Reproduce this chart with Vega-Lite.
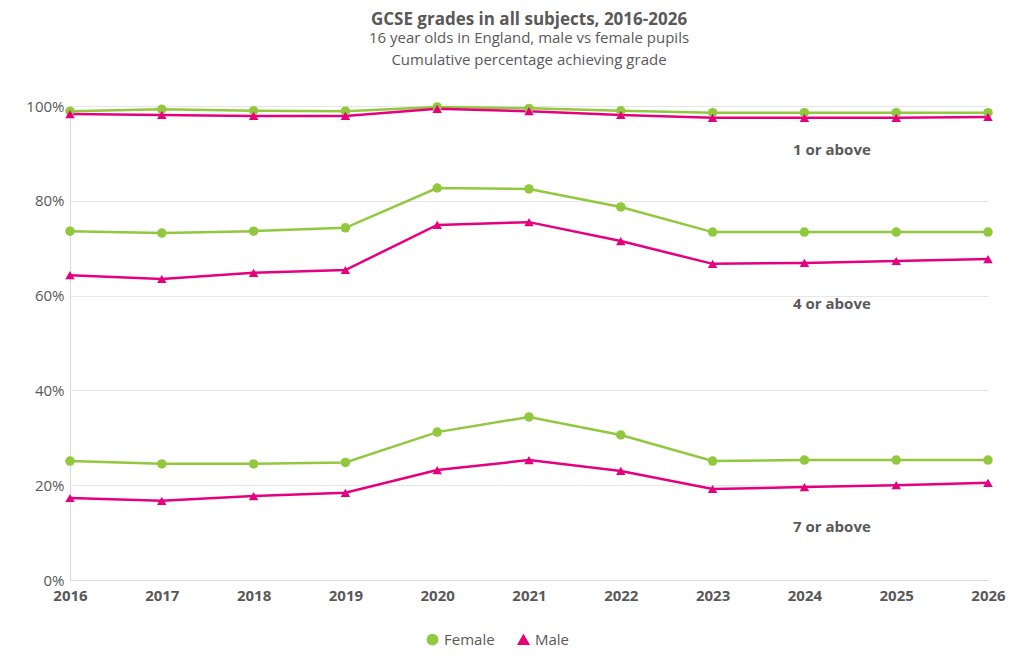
{
  "$schema": "https://vega.github.io/schema/vega-lite/v6.json",
  "width": 918,
  "height": 474,
  "autosize": {"type": "none"},
  "padding": {"left": 70, "top": 106, "right": 36, "bottom": 88},
  "background": "white",
  "title": {
    "text": "GCSE grades in all subjects, 2016-2026",
    "subtitle": ["16 year olds in England, male vs female pupils", "Cumulative percentage achieving grade"],
    "anchor": "middle",
    "frame": "group",
    "offset": 30,
    "font": "Open Sans",
    "fontSize": 17,
    "fontWeight": "bold",
    "color": "#595959",
    "subtitleFont": "Open Sans",
    "subtitleFontSize": 15,
    "subtitleLineHeight": 22,
    "subtitleColor": "#595959",
    "subtitlePadding": 2
  },
  "config": {
    "font": "Open Sans",
    "view": {"stroke": null}
  },
  "datasets": {
    "grades": [
      {"year": 2016, "sex": "Female", "grade": "1", "pct": 98.9},
      {"year": 2017, "sex": "Female", "grade": "1", "pct": 99.3},
      {"year": 2018, "sex": "Female", "grade": "1", "pct": 99.0},
      {"year": 2019, "sex": "Female", "grade": "1", "pct": 98.9},
      {"year": 2020, "sex": "Female", "grade": "1", "pct": 99.8},
      {"year": 2021, "sex": "Female", "grade": "1", "pct": 99.5},
      {"year": 2022, "sex": "Female", "grade": "1", "pct": 99.0},
      {"year": 2023, "sex": "Female", "grade": "1", "pct": 98.6},
      {"year": 2024, "sex": "Female", "grade": "1", "pct": 98.6},
      {"year": 2025, "sex": "Female", "grade": "1", "pct": 98.6},
      {"year": 2026, "sex": "Female", "grade": "1", "pct": 98.6},
      {"year": 2016, "sex": "Male", "grade": "1", "pct": 98.3},
      {"year": 2017, "sex": "Male", "grade": "1", "pct": 98.1},
      {"year": 2018, "sex": "Male", "grade": "1", "pct": 97.9},
      {"year": 2019, "sex": "Male", "grade": "1", "pct": 97.9},
      {"year": 2020, "sex": "Male", "grade": "1", "pct": 99.4},
      {"year": 2021, "sex": "Male", "grade": "1", "pct": 98.9},
      {"year": 2022, "sex": "Male", "grade": "1", "pct": 98.1},
      {"year": 2023, "sex": "Male", "grade": "1", "pct": 97.5},
      {"year": 2024, "sex": "Male", "grade": "1", "pct": 97.5},
      {"year": 2025, "sex": "Male", "grade": "1", "pct": 97.5},
      {"year": 2026, "sex": "Male", "grade": "1", "pct": 97.7},
      {"year": 2016, "sex": "Female", "grade": "4", "pct": 73.6},
      {"year": 2017, "sex": "Female", "grade": "4", "pct": 73.2},
      {"year": 2018, "sex": "Female", "grade": "4", "pct": 73.6},
      {"year": 2019, "sex": "Female", "grade": "4", "pct": 74.3},
      {"year": 2020, "sex": "Female", "grade": "4", "pct": 82.7},
      {"year": 2021, "sex": "Female", "grade": "4", "pct": 82.5},
      {"year": 2022, "sex": "Female", "grade": "4", "pct": 78.7},
      {"year": 2023, "sex": "Female", "grade": "4", "pct": 73.4},
      {"year": 2024, "sex": "Female", "grade": "4", "pct": 73.4},
      {"year": 2025, "sex": "Female", "grade": "4", "pct": 73.4},
      {"year": 2026, "sex": "Female", "grade": "4", "pct": 73.4},
      {"year": 2016, "sex": "Male", "grade": "4", "pct": 64.3},
      {"year": 2017, "sex": "Male", "grade": "4", "pct": 63.5},
      {"year": 2018, "sex": "Male", "grade": "4", "pct": 64.8},
      {"year": 2019, "sex": "Male", "grade": "4", "pct": 65.4},
      {"year": 2020, "sex": "Male", "grade": "4", "pct": 74.9},
      {"year": 2021, "sex": "Male", "grade": "4", "pct": 75.5},
      {"year": 2022, "sex": "Male", "grade": "4", "pct": 71.5},
      {"year": 2023, "sex": "Male", "grade": "4", "pct": 66.7},
      {"year": 2024, "sex": "Male", "grade": "4", "pct": 66.9},
      {"year": 2025, "sex": "Male", "grade": "4", "pct": 67.3},
      {"year": 2026, "sex": "Male", "grade": "4", "pct": 67.7},
      {"year": 2016, "sex": "Female", "grade": "7", "pct": 25.1},
      {"year": 2017, "sex": "Female", "grade": "7", "pct": 24.5},
      {"year": 2018, "sex": "Female", "grade": "7", "pct": 24.5},
      {"year": 2019, "sex": "Female", "grade": "7", "pct": 24.8},
      {"year": 2020, "sex": "Female", "grade": "7", "pct": 31.2},
      {"year": 2021, "sex": "Female", "grade": "7", "pct": 34.4},
      {"year": 2022, "sex": "Female", "grade": "7", "pct": 30.6},
      {"year": 2023, "sex": "Female", "grade": "7", "pct": 25.1},
      {"year": 2024, "sex": "Female", "grade": "7", "pct": 25.3},
      {"year": 2025, "sex": "Female", "grade": "7", "pct": 25.3},
      {"year": 2026, "sex": "Female", "grade": "7", "pct": 25.3},
      {"year": 2016, "sex": "Male", "grade": "7", "pct": 17.3},
      {"year": 2017, "sex": "Male", "grade": "7", "pct": 16.7},
      {"year": 2018, "sex": "Male", "grade": "7", "pct": 17.7},
      {"year": 2019, "sex": "Male", "grade": "7", "pct": 18.4},
      {"year": 2020, "sex": "Male", "grade": "7", "pct": 23.2},
      {"year": 2021, "sex": "Male", "grade": "7", "pct": 25.3},
      {"year": 2022, "sex": "Male", "grade": "7", "pct": 23.0},
      {"year": 2023, "sex": "Male", "grade": "7", "pct": 19.2},
      {"year": 2024, "sex": "Male", "grade": "7", "pct": 19.6},
      {"year": 2025, "sex": "Male", "grade": "7", "pct": 20.0},
      {"year": 2026, "sex": "Male", "grade": "7", "pct": 20.5}
    ],
    "labels": [
      {"year": 2024.3, "pct": 90.7, "label": "1 or above"},
      {"year": 2024.3, "pct": 58.2, "label": "4 or above"},
      {"year": 2024.3, "pct": 11.2, "label": "7 or above"}
    ]
  },
  "layer": [
    {
      "data": {"name": "grades"},
      "mark": {"type": "line", "strokeWidth": 2.5},
      "encoding": {
        "x": {
          "field": "year", "type": "quantitative",
          "scale": {"domain": [2016, 2026], "nice": false, "zero": false},
          "axis": {"format": "d", "tickCount": 11, "title": null, "grid": false, "domainColor": "#d9d9d9", "ticks": false, "labelFlush": false, "labelBound": false, "labelFontSize": 15, "labelFontWeight": "bold", "labelColor": "#595959", "labelPadding": 8}
        },
        "y": {
          "field": "pct", "type": "quantitative",
          "scale": {"domain": [0, 100]},
          "axis": {"values": [0, 20, 40, 60, 80, 100], "labelExpr": "datum.value + '%'", "title": null, "domainColor": "#d9d9d9", "ticks": false, "gridColor": "#e6e6e6", "labelFontSize": 15, "labelColor": "#595959", "labelPadding": 6}
        },
        "color": {
          "field": "sex", "type": "nominal",
          "scale": {"domain": ["Female", "Male"], "range": ["#92c83e", "#e6007e"]},
          "legend": {"orient": "none", "legendX": 355, "legendY": 526, "direction": "horizontal", "title": null, "labelFontSize": 15, "labelColor": "#595959", "symbolSize": 110, "columnPadding": 20}
        },
        "detail": {"field": "grade"}
      }
    },
    {
      "data": {"name": "grades"},
      "mark": {"type": "point", "filled": true, "opacity": 1, "size": 90},
      "encoding": {
        "x": {"field": "year", "type": "quantitative"},
        "y": {"field": "pct", "type": "quantitative"},
        "color": {"field": "sex", "type": "nominal"},
        "shape": {"field": "sex", "type": "nominal", "scale": {"domain": ["Female", "Male"], "range": ["circle", "triangle-up"]}, "legend": null}
      }
    },
    {
      "data": {"name": "labels"},
      "mark": {"type": "text", "fontSize": 15, "fontWeight": "bold", "color": "#595959"},
      "encoding": {
        "x": {"field": "year", "type": "quantitative"},
        "y": {"field": "pct", "type": "quantitative"},
        "text": {"field": "label"}
      }
    }
  ]
}
